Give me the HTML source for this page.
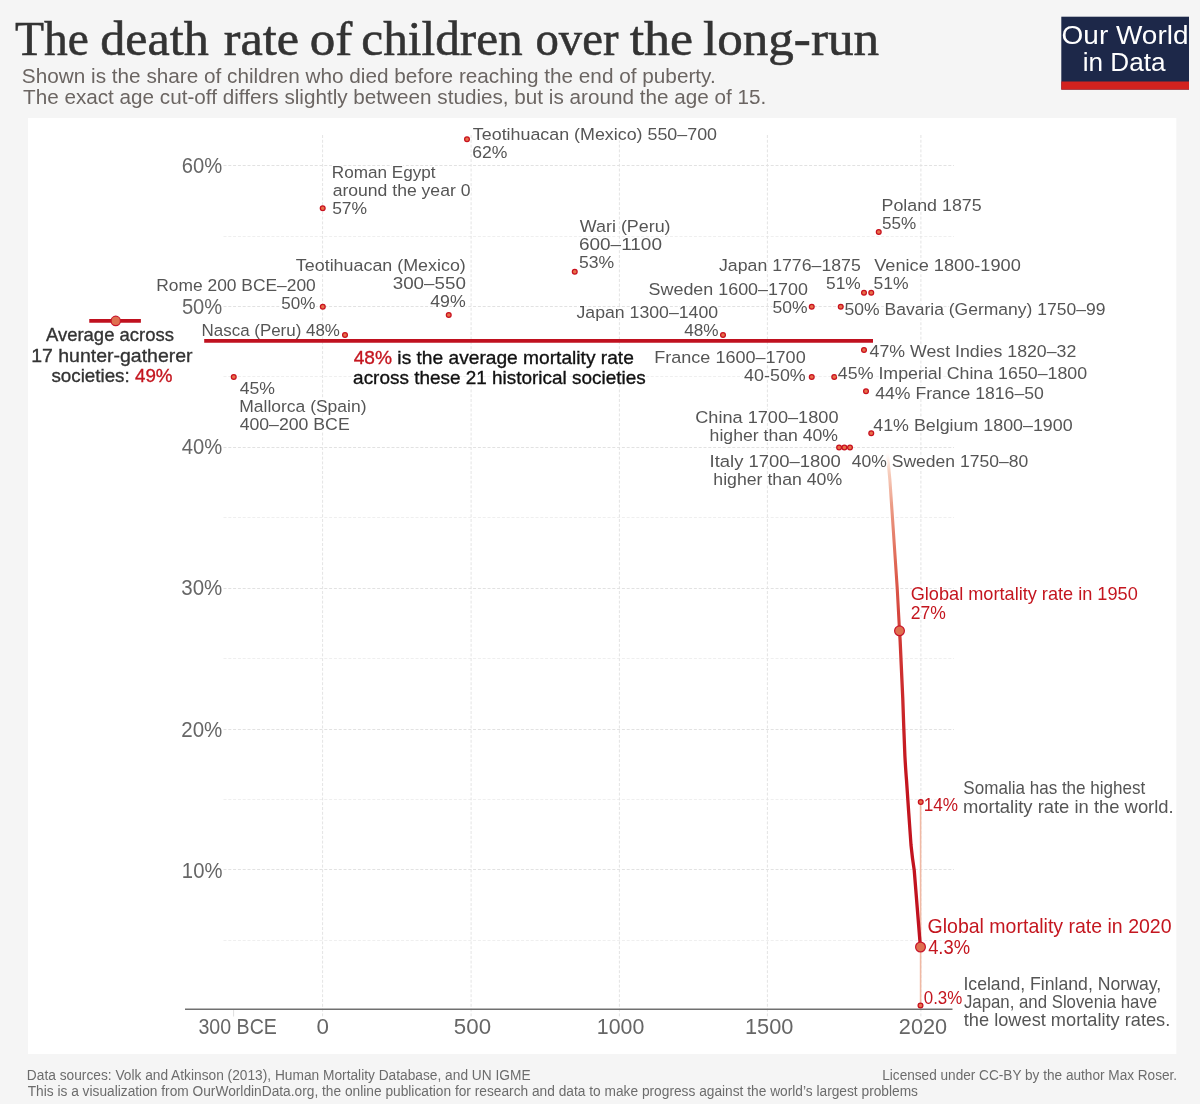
<!DOCTYPE html>
<html lang="en"><head><meta charset="utf-8"><title>The death rate of children over the long-run</title>
<style>html,body{margin:0;padding:0;background:#f5f5f5}svg{display:block}text{white-space:pre}</style></head>
<body>
<svg width="1200" height="1104" viewBox="0 0 1200 1104">
<rect x="0" y="0" width="1200" height="1104" fill="#f5f5f5"/>
<rect x="28" y="118" width="1148.3" height="936" fill="#ffffff"/>
<line x1="223.5" x2="954" y1="940.50" y2="940.50" stroke="#efefef" stroke-width="1" stroke-dasharray="3 1.8"/>
<line x1="223.5" x2="954" y1="869.50" y2="869.50" stroke="#e2e2e2" stroke-width="1" stroke-dasharray="3 1.8"/>
<line x1="223.5" x2="954" y1="799.50" y2="799.50" stroke="#efefef" stroke-width="1" stroke-dasharray="3 1.8"/>
<line x1="223.5" x2="954" y1="729.50" y2="729.50" stroke="#e2e2e2" stroke-width="1" stroke-dasharray="3 1.8"/>
<line x1="223.5" x2="954" y1="658.50" y2="658.50" stroke="#efefef" stroke-width="1" stroke-dasharray="3 1.8"/>
<line x1="223.5" x2="954" y1="588.50" y2="588.50" stroke="#e2e2e2" stroke-width="1" stroke-dasharray="3 1.8"/>
<line x1="223.5" x2="954" y1="517.50" y2="517.50" stroke="#efefef" stroke-width="1" stroke-dasharray="3 1.8"/>
<line x1="223.5" x2="954" y1="447.50" y2="447.50" stroke="#e2e2e2" stroke-width="1" stroke-dasharray="3 1.8"/>
<line x1="223.5" x2="954" y1="376.50" y2="376.50" stroke="#efefef" stroke-width="1" stroke-dasharray="3 1.8"/>
<line x1="223.5" x2="954" y1="306.50" y2="306.50" stroke="#e2e2e2" stroke-width="1" stroke-dasharray="3 1.8"/>
<line x1="223.5" x2="954" y1="236.50" y2="236.50" stroke="#efefef" stroke-width="1" stroke-dasharray="3 1.8"/>
<line x1="223.5" x2="954" y1="165.50" y2="165.50" stroke="#e2e2e2" stroke-width="1" stroke-dasharray="3 1.8"/>
<line x1="322.60" x2="322.60" y1="135" y2="1016.5" stroke="#e4e4e4" stroke-width="1" stroke-dasharray="3 1.8"/>
<line x1="471.10" x2="471.10" y1="135" y2="1016.5" stroke="#e4e4e4" stroke-width="1" stroke-dasharray="3 1.8"/>
<line x1="619.40" x2="619.40" y1="135" y2="1016.5" stroke="#e4e4e4" stroke-width="1" stroke-dasharray="3 1.8"/>
<line x1="767.40" x2="767.40" y1="135" y2="1016.5" stroke="#e4e4e4" stroke-width="1" stroke-dasharray="3 1.8"/>
<line x1="920.90" x2="920.90" y1="135" y2="1016.5" stroke="#e4e4e4" stroke-width="1" stroke-dasharray="3 1.8"/>
<line x1="233.6" x2="233.6" y1="1009" y2="1016.5" stroke="#dedede" stroke-width="1"/>
<line x1="185" x2="952.5" y1="1009.2" y2="1009.2" stroke="#707070" stroke-width="1.6"/>
<rect x="1061.3" y="16.7" width="127.7" height="72.9" fill="#1d2849"/>
<rect x="1061.3" y="81.5" width="127.7" height="8.1" fill="#d3221e"/>
<line x1="204.2" x2="873" y1="340.9" y2="340.9" stroke="#c0111f" stroke-width="3.6"/>
<line x1="89.25" x2="140.9" y1="320.9" y2="320.9" stroke="#c0111f" stroke-width="3.75"/>
<circle cx="115.75" cy="320.9" r="4.7" fill="#df7050" stroke="#c8152a" stroke-width="1.2"/>
<line x1="920.6" x2="920.6" y1="802" y2="1005.5" stroke="#f0b9a4" stroke-width="1.6"/>
<defs><linearGradient id="cg" gradientUnits="userSpaceOnUse" x1="0" y1="453" x2="0" y2="631"><stop offset="0" stop-color="#f7cbb8" stop-opacity="0"/><stop offset="0.1" stop-color="#f4bfa9" stop-opacity="0.75"/><stop offset="0.3" stop-color="#eb9a84" stop-opacity="1"/><stop offset="0.65" stop-color="#de6250"/><stop offset="1" stop-color="#d23a36"/></linearGradient><linearGradient id="cg2" gradientUnits="userSpaceOnUse" x1="0" y1="631" x2="0" y2="947"><stop offset="0" stop-color="#d23a36"/><stop offset="0.45" stop-color="#c4161f"/><stop offset="1" stop-color="#c0111f"/></linearGradient></defs>
<path d="M887.4,452 C888.2,462 889,471 889.9,480 C891,497 892.2,514 893.3,530 C894.6,549 895.9,569 897.2,588 C898,602 898.8,616 899.5,630.5" fill="none" stroke="url(#cg)" stroke-width="3.1"/>
<path d="M899.5,630.5 L900.1,640 C901,660 901.9,680 902.75,698 C903.4,717 904.1,737 904.9,756 C905.4,765 905.9,773 906.5,780 C907.9,802 909.5,823 911,845 C911.8,853 912.9,862 914.2,870 C916.2,895 918.2,921 920.4,947" fill="none" stroke="url(#cg2)" stroke-width="3.3" stroke-linejoin="round"/>
<circle cx="467.00" cy="139.25" r="2.4" fill="#e8704a" stroke="#c8101e" stroke-width="1.25"/>
<circle cx="322.70" cy="208.25" r="2.4" fill="#e8704a" stroke="#c8101e" stroke-width="1.25"/>
<circle cx="322.80" cy="306.70" r="2.4" fill="#e8704a" stroke="#c8101e" stroke-width="1.25"/>
<circle cx="345.00" cy="335.00" r="2.4" fill="#e8704a" stroke="#c8101e" stroke-width="1.25"/>
<circle cx="233.75" cy="377.00" r="2.4" fill="#e8704a" stroke="#c8101e" stroke-width="1.25"/>
<circle cx="448.75" cy="315.00" r="2.4" fill="#e8704a" stroke="#c8101e" stroke-width="1.25"/>
<circle cx="574.75" cy="271.75" r="2.4" fill="#e8704a" stroke="#c8101e" stroke-width="1.25"/>
<circle cx="723.00" cy="335.00" r="2.4" fill="#e8704a" stroke="#c8101e" stroke-width="1.25"/>
<circle cx="811.75" cy="306.75" r="2.4" fill="#e8704a" stroke="#c8101e" stroke-width="1.25"/>
<circle cx="840.75" cy="306.75" r="2.4" fill="#e8704a" stroke="#c8101e" stroke-width="1.25"/>
<circle cx="864.00" cy="292.75" r="2.4" fill="#e8704a" stroke="#c8101e" stroke-width="1.25"/>
<circle cx="871.25" cy="292.75" r="2.4" fill="#e8704a" stroke="#c8101e" stroke-width="1.25"/>
<circle cx="878.75" cy="232.00" r="2.4" fill="#e8704a" stroke="#c8101e" stroke-width="1.25"/>
<circle cx="864.00" cy="350.00" r="2.4" fill="#e8704a" stroke="#c8101e" stroke-width="1.25"/>
<circle cx="811.75" cy="377.00" r="2.4" fill="#e8704a" stroke="#c8101e" stroke-width="1.25"/>
<circle cx="834.25" cy="377.00" r="2.4" fill="#e8704a" stroke="#c8101e" stroke-width="1.25"/>
<circle cx="866.00" cy="391.25" r="2.4" fill="#e8704a" stroke="#c8101e" stroke-width="1.25"/>
<circle cx="871.25" cy="433.25" r="2.4" fill="#e8704a" stroke="#c8101e" stroke-width="1.25"/>
<circle cx="839.10" cy="447.50" r="2.4" fill="#e8704a" stroke="#c8101e" stroke-width="1.25"/>
<circle cx="844.40" cy="447.50" r="2.4" fill="#e8704a" stroke="#c8101e" stroke-width="1.25"/>
<circle cx="850.00" cy="447.50" r="2.4" fill="#e8704a" stroke="#c8101e" stroke-width="1.25"/>
<circle cx="920.75" cy="802.00" r="2.4" fill="#e8704a" stroke="#c8101e" stroke-width="1.25"/>
<circle cx="920.50" cy="1005.50" r="2.4" fill="#e8704a" stroke="#c8101e" stroke-width="1.25"/>
<circle cx="899.50" cy="630.80" r="4.9" fill="#df7050" stroke="#c8152a" stroke-width="1.2"/>
<circle cx="920.50" cy="947.00" r="4.9" fill="#df7050" stroke="#c8152a" stroke-width="1.2"/>
<text x="14.99" y="55.00" font-size="48" fill="#333333" stroke="#333333" stroke-width="0.55" font-family="'Liberation Serif', serif" textLength="73.85" lengthAdjust="spacingAndGlyphs">The</text>
<text x="100.23" y="55.00" font-size="48" fill="#333333" stroke="#333333" stroke-width="0.55" font-family="'Liberation Serif', serif" textLength="108.53" lengthAdjust="spacingAndGlyphs">death</text>
<text x="223.83" y="55.00" font-size="48" fill="#333333" stroke="#333333" stroke-width="0.55" font-family="'Liberation Serif', serif" textLength="75.24" lengthAdjust="spacingAndGlyphs">rate</text>
<text x="309.87" y="55.00" font-size="48" fill="#333333" stroke="#333333" stroke-width="0.55" font-family="'Liberation Serif', serif" textLength="42.51" lengthAdjust="spacingAndGlyphs">of</text>
<text x="361.28" y="55.00" font-size="48" fill="#333333" stroke="#333333" stroke-width="0.55" font-family="'Liberation Serif', serif" textLength="161.46" lengthAdjust="spacingAndGlyphs">children</text>
<text x="535.44" y="55.00" font-size="48" fill="#333333" stroke="#333333" stroke-width="0.55" font-family="'Liberation Serif', serif" textLength="83.08" lengthAdjust="spacingAndGlyphs">over</text>
<text x="629.70" y="55.00" font-size="48" fill="#333333" stroke="#333333" stroke-width="0.55" font-family="'Liberation Serif', serif" textLength="63.41" lengthAdjust="spacingAndGlyphs">the</text>
<text x="702.96" y="55.00" font-size="48" fill="#333333" stroke="#333333" stroke-width="0.55" font-family="'Liberation Serif', serif" textLength="176.13" lengthAdjust="spacingAndGlyphs">long-run</text>
<text x="21.85" y="82.80" font-size="19.9" fill="#6b6562" font-family="'Liberation Sans', sans-serif" textLength="693.85" lengthAdjust="spacingAndGlyphs">Shown is the share of children who died before reaching the end of puberty.</text>
<text x="23.05" y="103.90" font-size="19.9" fill="#6b6562" font-family="'Liberation Sans', sans-serif" textLength="743.12" lengthAdjust="spacingAndGlyphs">The exact age cut-off differs slightly between studies, but is around the age of 15.</text>
<text x="1061.63" y="43.80" font-size="25.3" fill="#ffffff" font-family="'Liberation Sans', sans-serif" textLength="126.82" lengthAdjust="spacingAndGlyphs">Our World</text>
<text x="1082.66" y="71.00" font-size="25.3" fill="#ffffff" font-family="'Liberation Sans', sans-serif" textLength="82.83" lengthAdjust="spacingAndGlyphs">in Data</text>
<text x="181.85" y="172.70" font-size="21.2" fill="#666666" font-family="'Liberation Sans', sans-serif" textLength="40.48" lengthAdjust="spacingAndGlyphs">60%</text>
<text x="181.90" y="313.50" font-size="21.2" fill="#666666" font-family="'Liberation Sans', sans-serif" textLength="40.35" lengthAdjust="spacingAndGlyphs">50%</text>
<text x="181.82" y="454.00" font-size="21.2" fill="#666666" font-family="'Liberation Sans', sans-serif" textLength="40.48" lengthAdjust="spacingAndGlyphs">40%</text>
<text x="181.34" y="595.20" font-size="21.2" fill="#666666" font-family="'Liberation Sans', sans-serif" textLength="40.98" lengthAdjust="spacingAndGlyphs">30%</text>
<text x="181.28" y="736.70" font-size="21.2" fill="#666666" font-family="'Liberation Sans', sans-serif" textLength="41.07" lengthAdjust="spacingAndGlyphs">20%</text>
<text x="181.87" y="877.60" font-size="21.2" fill="#666666" font-family="'Liberation Sans', sans-serif" textLength="40.55" lengthAdjust="spacingAndGlyphs">10%</text>
<text x="198.47" y="1033.70" font-size="21.2" fill="#666666" font-family="'Liberation Sans', sans-serif" textLength="78.44" lengthAdjust="spacingAndGlyphs">300 BCE</text>
<text x="316.44" y="1033.70" font-size="21.2" fill="#666666" font-family="'Liberation Sans', sans-serif" textLength="12.47" lengthAdjust="spacingAndGlyphs">0</text>
<text x="453.85" y="1033.70" font-size="21.2" fill="#666666" font-family="'Liberation Sans', sans-serif" textLength="37.19" lengthAdjust="spacingAndGlyphs">500</text>
<text x="596.85" y="1033.70" font-size="21.2" fill="#666666" font-family="'Liberation Sans', sans-serif" textLength="47.48" lengthAdjust="spacingAndGlyphs">1000</text>
<text x="744.92" y="1033.70" font-size="21.2" fill="#666666" font-family="'Liberation Sans', sans-serif" textLength="48.46" lengthAdjust="spacingAndGlyphs">1500</text>
<text x="898.86" y="1033.70" font-size="21.2" fill="#666666" font-family="'Liberation Sans', sans-serif" textLength="48.31" lengthAdjust="spacingAndGlyphs">2020</text>
<text x="45.98" y="340.80" font-size="18.4" fill="#333333" stroke="#333333" stroke-width="0.33" font-family="'Liberation Sans', sans-serif" textLength="127.96" lengthAdjust="spacingAndGlyphs">Average across</text>
<text x="31.16" y="361.80" font-size="18.4" fill="#333333" stroke="#333333" stroke-width="0.33" font-family="'Liberation Sans', sans-serif" textLength="161.38" lengthAdjust="spacingAndGlyphs">17 hunter-gatherer</text>
<text x="51.41" y="381.50" font-size="18.4" fill="#333333" stroke="#333333" stroke-width="0.33" font-family="'Liberation Sans', sans-serif" textLength="121.18" lengthAdjust="spacingAndGlyphs"><tspan fill="#333333" stroke="#333333">societies: </tspan><tspan fill="#c4161f" stroke="#c4161f">49%</tspan></text>
<text x="472.85" y="140.00" font-size="17.1" fill="#555555" stroke="#ffffff" stroke-width="2.6" stroke-linejoin="round" paint-order="stroke" font-family="'Liberation Sans', sans-serif" textLength="244.16" lengthAdjust="spacingAndGlyphs">Teotihuacan (Mexico) 550–700</text>
<text x="472.30" y="157.50" font-size="17.1" fill="#555555" stroke="#ffffff" stroke-width="2.6" stroke-linejoin="round" paint-order="stroke" font-family="'Liberation Sans', sans-serif" textLength="35.17" lengthAdjust="spacingAndGlyphs">62%</text>
<text x="331.84" y="178.00" font-size="17.1" fill="#555555" stroke="#ffffff" stroke-width="2.6" stroke-linejoin="round" paint-order="stroke" font-family="'Liberation Sans', sans-serif" textLength="103.75" lengthAdjust="spacingAndGlyphs">Roman Egypt</text>
<text x="332.65" y="196.00" font-size="17.1" fill="#555555" stroke="#ffffff" stroke-width="2.6" stroke-linejoin="round" paint-order="stroke" font-family="'Liberation Sans', sans-serif" textLength="137.79" lengthAdjust="spacingAndGlyphs">around the year 0</text>
<text x="332.17" y="213.50" font-size="17.1" fill="#555555" stroke="#ffffff" stroke-width="2.6" stroke-linejoin="round" paint-order="stroke" font-family="'Liberation Sans', sans-serif" textLength="34.95" lengthAdjust="spacingAndGlyphs">57%</text>
<text x="295.85" y="271.25" font-size="17.1" fill="#555555" stroke="#ffffff" stroke-width="2.6" stroke-linejoin="round" paint-order="stroke" font-family="'Liberation Sans', sans-serif" textLength="169.99" lengthAdjust="spacingAndGlyphs">Teotihuacan (Mexico)</text>
<text x="392.73" y="289.00" font-size="17.1" fill="#555555" stroke="#ffffff" stroke-width="2.6" stroke-linejoin="round" paint-order="stroke" font-family="'Liberation Sans', sans-serif" textLength="73.13" lengthAdjust="spacingAndGlyphs">300–550</text>
<text x="430.24" y="306.75" font-size="17.1" fill="#555555" stroke="#ffffff" stroke-width="2.6" stroke-linejoin="round" paint-order="stroke" font-family="'Liberation Sans', sans-serif" textLength="35.50" lengthAdjust="spacingAndGlyphs">49%</text>
<text x="156.30" y="290.50" font-size="17.1" fill="#555555" stroke="#ffffff" stroke-width="2.6" stroke-linejoin="round" paint-order="stroke" font-family="'Liberation Sans', sans-serif" textLength="159.45" lengthAdjust="spacingAndGlyphs">Rome 200 BCE–200</text>
<text x="281.20" y="308.50" font-size="17.1" fill="#555555" stroke="#ffffff" stroke-width="2.6" stroke-linejoin="round" paint-order="stroke" font-family="'Liberation Sans', sans-serif" textLength="34.12" lengthAdjust="spacingAndGlyphs">50%</text>
<text x="201.55" y="336.30" font-size="17.1" fill="#555555" font-family="'Liberation Sans', sans-serif" textLength="138.37" lengthAdjust="spacingAndGlyphs">Nasca (Peru) 48%</text>
<text x="239.67" y="393.50" font-size="17.1" fill="#555555" stroke="#ffffff" stroke-width="2.6" stroke-linejoin="round" paint-order="stroke" font-family="'Liberation Sans', sans-serif" textLength="35.29" lengthAdjust="spacingAndGlyphs">45%</text>
<text x="239.22" y="411.50" font-size="17.1" fill="#555555" stroke="#ffffff" stroke-width="2.6" stroke-linejoin="round" paint-order="stroke" font-family="'Liberation Sans', sans-serif" textLength="127.28" lengthAdjust="spacingAndGlyphs">Mallorca (Spain)</text>
<text x="239.65" y="429.70" font-size="17.1" fill="#555555" stroke="#ffffff" stroke-width="2.6" stroke-linejoin="round" paint-order="stroke" font-family="'Liberation Sans', sans-serif" textLength="110.04" lengthAdjust="spacingAndGlyphs">400–200 BCE</text>
<text x="579.83" y="232.25" font-size="17.1" fill="#555555" stroke="#ffffff" stroke-width="2.6" stroke-linejoin="round" paint-order="stroke" font-family="'Liberation Sans', sans-serif" textLength="90.76" lengthAdjust="spacingAndGlyphs">Wari (Peru)</text>
<text x="578.96" y="249.75" font-size="17.1" fill="#555555" stroke="#ffffff" stroke-width="2.6" stroke-linejoin="round" paint-order="stroke" font-family="'Liberation Sans', sans-serif" textLength="83.00" lengthAdjust="spacingAndGlyphs">600–1100</text>
<text x="579.03" y="267.50" font-size="17.1" fill="#555555" stroke="#ffffff" stroke-width="2.6" stroke-linejoin="round" paint-order="stroke" font-family="'Liberation Sans', sans-serif" textLength="35.21" lengthAdjust="spacingAndGlyphs">53%</text>
<text x="648.57" y="295.00" font-size="17.1" fill="#555555" stroke="#ffffff" stroke-width="2.6" stroke-linejoin="round" paint-order="stroke" font-family="'Liberation Sans', sans-serif" textLength="159.31" lengthAdjust="spacingAndGlyphs">Sweden 1600–1700</text>
<text x="772.62" y="313.00" font-size="17.1" fill="#555555" stroke="#ffffff" stroke-width="2.6" stroke-linejoin="round" paint-order="stroke" font-family="'Liberation Sans', sans-serif" textLength="35.02" lengthAdjust="spacingAndGlyphs">50%</text>
<text x="576.52" y="317.80" font-size="17.1" fill="#555555" stroke="#ffffff" stroke-width="2.6" stroke-linejoin="round" paint-order="stroke" font-family="'Liberation Sans', sans-serif" textLength="141.59" lengthAdjust="spacingAndGlyphs">Japan 1300–1400</text>
<text x="684.28" y="335.80" font-size="17.1" fill="#555555" stroke="#ffffff" stroke-width="2.6" stroke-linejoin="round" paint-order="stroke" font-family="'Liberation Sans', sans-serif" textLength="34.38" lengthAdjust="spacingAndGlyphs">48%</text>
<text x="654.24" y="362.70" font-size="17.1" fill="#555555" stroke="#ffffff" stroke-width="2.6" stroke-linejoin="round" paint-order="stroke" font-family="'Liberation Sans', sans-serif" textLength="151.44" lengthAdjust="spacingAndGlyphs">France 1600–1700</text>
<text x="744.13" y="380.50" font-size="17.1" fill="#555555" stroke="#ffffff" stroke-width="2.6" stroke-linejoin="round" paint-order="stroke" font-family="'Liberation Sans', sans-serif" textLength="61.61" lengthAdjust="spacingAndGlyphs">40-50%</text>
<text x="881.52" y="211.00" font-size="17.1" fill="#555555" stroke="#ffffff" stroke-width="2.6" stroke-linejoin="round" paint-order="stroke" font-family="'Liberation Sans', sans-serif" textLength="100.16" lengthAdjust="spacingAndGlyphs">Poland 1875</text>
<text x="882.10" y="229.25" font-size="17.1" fill="#555555" stroke="#ffffff" stroke-width="2.6" stroke-linejoin="round" paint-order="stroke" font-family="'Liberation Sans', sans-serif" textLength="34.18" lengthAdjust="spacingAndGlyphs">55%</text>
<text x="719.02" y="270.50" font-size="17.1" fill="#555555" stroke="#ffffff" stroke-width="2.6" stroke-linejoin="round" paint-order="stroke" font-family="'Liberation Sans', sans-serif" textLength="141.76" lengthAdjust="spacingAndGlyphs">Japan 1776–1875</text>
<text x="826.07" y="288.75" font-size="17.1" fill="#555555" stroke="#ffffff" stroke-width="2.6" stroke-linejoin="round" paint-order="stroke" font-family="'Liberation Sans', sans-serif" textLength="34.71" lengthAdjust="spacingAndGlyphs">51%</text>
<text x="874.26" y="270.50" font-size="17.1" fill="#555555" stroke="#ffffff" stroke-width="2.6" stroke-linejoin="round" paint-order="stroke" font-family="'Liberation Sans', sans-serif" textLength="146.55" lengthAdjust="spacingAndGlyphs">Venice 1800-1900</text>
<text x="873.50" y="288.75" font-size="17.1" fill="#555555" stroke="#ffffff" stroke-width="2.6" stroke-linejoin="round" paint-order="stroke" font-family="'Liberation Sans', sans-serif" textLength="35.10" lengthAdjust="spacingAndGlyphs">51%</text>
<text x="844.57" y="315.00" font-size="17.1" fill="#555555" stroke="#ffffff" stroke-width="2.6" stroke-linejoin="round" paint-order="stroke" font-family="'Liberation Sans', sans-serif" textLength="260.94" lengthAdjust="spacingAndGlyphs">50% Bavaria (Germany) 1750–99</text>
<text x="869.63" y="357.00" font-size="17.1" fill="#555555" stroke="#ffffff" stroke-width="2.6" stroke-linejoin="round" paint-order="stroke" font-family="'Liberation Sans', sans-serif" textLength="206.67" lengthAdjust="spacingAndGlyphs">47% West Indies 1820–32</text>
<text x="837.85" y="378.75" font-size="17.1" fill="#555555" stroke="#ffffff" stroke-width="2.6" stroke-linejoin="round" paint-order="stroke" font-family="'Liberation Sans', sans-serif" textLength="249.32" lengthAdjust="spacingAndGlyphs">45% Imperial China 1650–1800</text>
<text x="875.25" y="398.75" font-size="17.1" fill="#555555" stroke="#ffffff" stroke-width="2.6" stroke-linejoin="round" paint-order="stroke" font-family="'Liberation Sans', sans-serif" textLength="168.55" lengthAdjust="spacingAndGlyphs">44% France 1816–50</text>
<text x="873.24" y="430.50" font-size="17.1" fill="#555555" stroke="#ffffff" stroke-width="2.6" stroke-linejoin="round" paint-order="stroke" font-family="'Liberation Sans', sans-serif" textLength="199.34" lengthAdjust="spacingAndGlyphs">41% Belgium 1800–1900</text>
<text x="695.26" y="423.00" font-size="17.1" fill="#555555" stroke="#ffffff" stroke-width="2.6" stroke-linejoin="round" paint-order="stroke" font-family="'Liberation Sans', sans-serif" textLength="143.23" lengthAdjust="spacingAndGlyphs">China 1700–1800</text>
<text x="709.63" y="441.00" font-size="17.1" fill="#555555" stroke="#ffffff" stroke-width="2.6" stroke-linejoin="round" paint-order="stroke" font-family="'Liberation Sans', sans-serif" textLength="128.40" lengthAdjust="spacingAndGlyphs">higher than 40%</text>
<text x="709.57" y="466.75" font-size="17.1" fill="#555555" stroke="#ffffff" stroke-width="2.6" stroke-linejoin="round" paint-order="stroke" font-family="'Liberation Sans', sans-serif" textLength="131.30" lengthAdjust="spacingAndGlyphs">Italy 1700–1800</text>
<text x="713.36" y="484.75" font-size="17.1" fill="#555555" stroke="#ffffff" stroke-width="2.6" stroke-linejoin="round" paint-order="stroke" font-family="'Liberation Sans', sans-serif" textLength="128.78" lengthAdjust="spacingAndGlyphs">higher than 40%</text>
<text x="851.77" y="466.80" font-size="17.1" fill="#555555" stroke="#ffffff" stroke-width="2.6" stroke-linejoin="round" paint-order="stroke" font-family="'Liberation Sans', sans-serif" textLength="176.48" lengthAdjust="spacingAndGlyphs">40% Sweden 1750–80</text>
<text x="353.70" y="364.00" font-size="18.5" fill="#111111" stroke="#111111" stroke-width="0.33" font-family="'Liberation Sans', sans-serif" textLength="280.13" lengthAdjust="spacingAndGlyphs"><tspan fill="#c4161f" stroke="#c4161f">48%</tspan><tspan fill="#111111" stroke="#111111"> is the average mortality rate</tspan></text>
<text x="353.10" y="384.00" font-size="18.5" fill="#111111" stroke="#111111" stroke-width="0.33" font-family="'Liberation Sans', sans-serif" textLength="292.63" lengthAdjust="spacingAndGlyphs">across these 21 historical societies</text>
<text x="910.71" y="600.30" font-size="18.6" fill="#c4161f" stroke="#ffffff" stroke-width="2.6" stroke-linejoin="round" paint-order="stroke" font-family="'Liberation Sans', sans-serif" textLength="227.06" lengthAdjust="spacingAndGlyphs">Global mortality rate in 1950</text>
<text x="910.79" y="618.60" font-size="18.6" fill="#c4161f" stroke="#ffffff" stroke-width="2.6" stroke-linejoin="round" paint-order="stroke" font-family="'Liberation Sans', sans-serif" textLength="35.09" lengthAdjust="spacingAndGlyphs">27%</text>
<text x="923.65" y="811.20" font-size="18.6" fill="#c4161f" stroke="#ffffff" stroke-width="2.6" stroke-linejoin="round" paint-order="stroke" font-family="'Liberation Sans', sans-serif" textLength="34.35" lengthAdjust="spacingAndGlyphs">14%</text>
<text x="963.37" y="794.40" font-size="18.2" fill="#555555" stroke="#ffffff" stroke-width="2.6" stroke-linejoin="round" paint-order="stroke" font-family="'Liberation Sans', sans-serif" textLength="181.91" lengthAdjust="spacingAndGlyphs">Somalia has the highest</text>
<text x="963.03" y="812.50" font-size="18.2" fill="#555555" stroke="#ffffff" stroke-width="2.6" stroke-linejoin="round" paint-order="stroke" font-family="'Liberation Sans', sans-serif" textLength="210.67" lengthAdjust="spacingAndGlyphs">mortality rate in the world.</text>
<text x="927.56" y="933.40" font-size="19.8" fill="#c4161f" stroke="#ffffff" stroke-width="2.6" stroke-linejoin="round" paint-order="stroke" font-family="'Liberation Sans', sans-serif" textLength="244.00" lengthAdjust="spacingAndGlyphs">Global mortality rate in 2020</text>
<text x="928.15" y="953.80" font-size="19.8" fill="#c4161f" stroke="#ffffff" stroke-width="2.6" stroke-linejoin="round" paint-order="stroke" font-family="'Liberation Sans', sans-serif" textLength="41.93" lengthAdjust="spacingAndGlyphs">4.3%</text>
<text x="923.75" y="1004.30" font-size="18.6" fill="#c4161f" stroke="#ffffff" stroke-width="2.6" stroke-linejoin="round" paint-order="stroke" font-family="'Liberation Sans', sans-serif" textLength="38.53" lengthAdjust="spacingAndGlyphs">0.3%</text>
<text x="963.41" y="989.80" font-size="18.2" fill="#555555" stroke="#ffffff" stroke-width="2.6" stroke-linejoin="round" paint-order="stroke" font-family="'Liberation Sans', sans-serif" textLength="197.72" lengthAdjust="spacingAndGlyphs">Iceland, Finland, Norway,</text>
<text x="963.93" y="1008.00" font-size="18.2" fill="#555555" stroke="#ffffff" stroke-width="2.6" stroke-linejoin="round" paint-order="stroke" font-family="'Liberation Sans', sans-serif" textLength="193.27" lengthAdjust="spacingAndGlyphs">Japan, and Slovenia have</text>
<text x="963.81" y="1026.00" font-size="18.2" fill="#555555" stroke="#ffffff" stroke-width="2.6" stroke-linejoin="round" paint-order="stroke" font-family="'Liberation Sans', sans-serif" textLength="206.49" lengthAdjust="spacingAndGlyphs">the lowest mortality rates.</text>
<text x="26.85" y="1080.00" font-size="14" fill="#6c6c6c" font-family="'Liberation Sans', sans-serif" textLength="503.74" lengthAdjust="spacingAndGlyphs">Data sources: Volk and Atkinson (2013), Human Mortality Database, and UN IGME</text>
<text x="27.68" y="1096.30" font-size="14" fill="#6c6c6c" font-family="'Liberation Sans', sans-serif" textLength="890.31" lengthAdjust="spacingAndGlyphs">This is a visualization from OurWorldinData.org, the online publication for research and data to make progress against the world’s largest problems</text>
<text x="882.23" y="1080.00" font-size="14" fill="#6c6c6c" font-family="'Liberation Sans', sans-serif" textLength="294.94" lengthAdjust="spacingAndGlyphs">Licensed under CC-BY by the author Max Roser.</text>
</svg>
</body></html>
